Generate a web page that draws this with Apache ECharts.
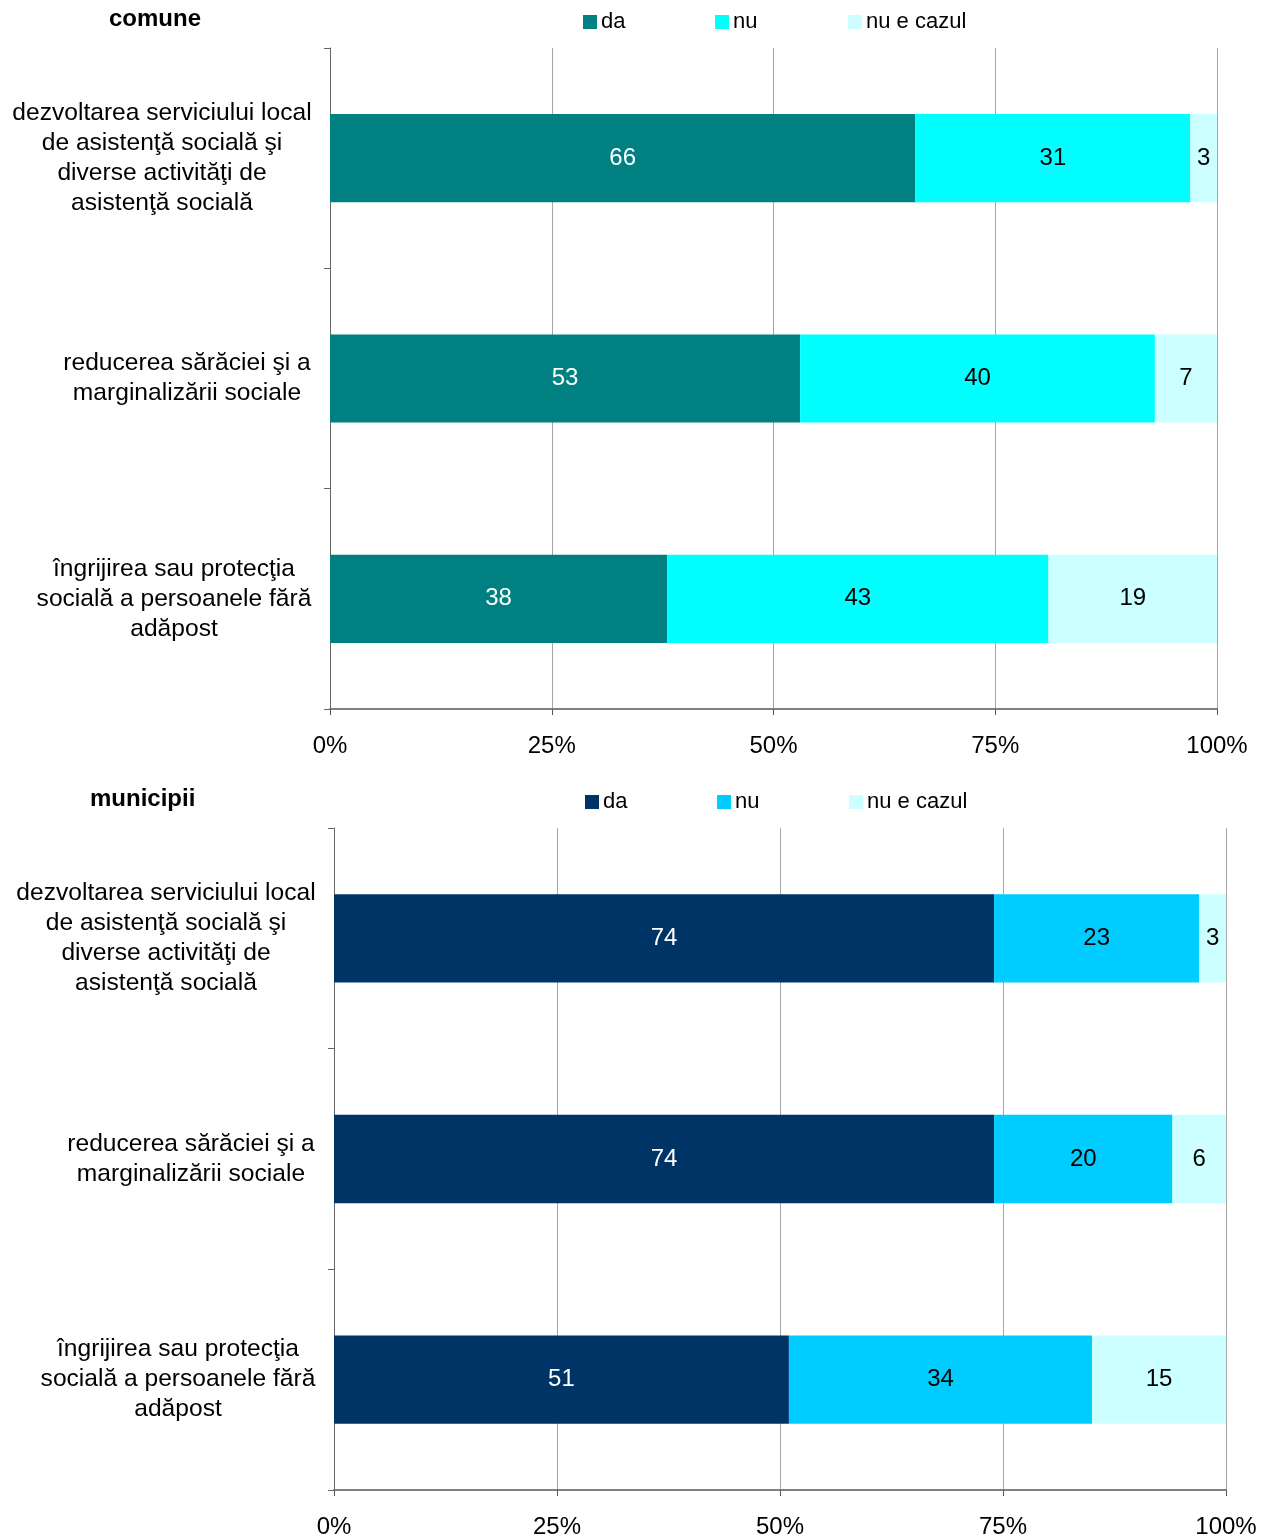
<!DOCTYPE html>
<html>
<head>
<meta charset="utf-8">
<script src="https://cdn.jsdelivr.net/npm/echarts@6/dist/echarts.min.js"></script>
<style>
  body { margin: 0; background: #fff; }
  #c1 { position: absolute; left: 0; top: 0; width: 1266px; height: 780px; }
  #c2 { position: absolute; left: 0; top: 780px; width: 1266px; height: 757px; }
</style>
</head>
<body>
<div id="c1"></div>
<div id="c2"></div>
<script>
var categories = [
  'dezvoltarea serviciului local\nde asistenţă socială şi\ndiverse activităţi de\nasistenţă socială',
  'reducerea sărăciei şi a\nmarginalizării sociale',
  'îngrijirea sau protecţia\nsocială a persoanele fără\nadăpost'
];
// shift of each multi-line label so the block sits like the original
var labelShift = [50, 0, 26];
var seriesNames = ['da', 'nu', 'nu e cazul'];
var ticks = [0, 25, 50, 75, 100];

var comuneDa = [66, 53, 38];
var comuneNu = [31, 40, 43];
var comuneNuECazul = [3, 7, 19];

var municipiiDa = [74, 74, 51];
var municipiiNu = [23, 20, 34];
var municipiiNuECazul = [3, 6, 15];

var FONT = '"Liberation Sans", Arial, sans-serif';

function buildChart(el, title, titleLeft, colors, values, grid, legendLefts) {
  var chart = echarts.init(document.getElementById(el));
  var catData = categories.map(function (c, i) {
    return {
      value: c,
      textStyle: {
        align: 'center', lineHeight: 30, fontFamily: FONT, fontSize: 24.6, color: '#000',
        padding: [4, labelShift[i], 0, 0]
      }
    };
  });
  var legends = seriesNames.map(function (n, i) {
    return {
      data: [n], left: legendLefts[i], top: 11, padding: 0,
      itemWidth: 14, itemHeight: 14, itemGap: 0,
      icon: 'rect', selectedMode: false,
      textStyle: { fontFamily: FONT, fontSize: 22, color: '#000', padding: [0, 0, 0, -1] }
    };
  });
  var series = seriesNames.map(function (n, i) {
    return {
      name: n, type: 'bar', stack: 'total',
      barCategoryGap: '60%',
      itemStyle: { color: colors[i] },
      label: {
        show: true, position: 'inside',
        fontFamily: FONT, fontSize: 24,
        color: i === 0 ? '#fff' : '#000'
      },
      data: values[i]
    };
  });
  grid.outerBoundsMode = 'none';
  grid.containLabel = false;
  chart.setOption({
    animation: false,
    title: {
      text: title, left: titleLeft, top: 7, padding: 0,
      textStyle: { fontFamily: FONT, fontSize: 24, fontWeight: 'bold', color: '#000' }
    },
    legend: legends,
    grid: grid,
    xAxis: {
      type: 'value', min: ticks[0], max: ticks[ticks.length - 1], interval: 25,
      axisLine: { show: true, lineStyle: { color: '#808080', width: 2 } },
      axisTick: { show: true, length: 6, lineStyle: { color: '#555' } },
      splitLine: { show: true, lineStyle: { color: '#a6a6a6', width: 1 } },
      axisLabel: {
        formatter: '{value}%', margin: 25,
        fontFamily: FONT, fontSize: 24, color: '#000'
      }
    },
    yAxis: {
      type: 'category', inverse: true, data: catData,
      axisLine: { show: true, lineStyle: { color: '#666', width: 1 } },
      axisTick: { show: true, length: 6, lineStyle: { color: '#666' } },
      axisLabel: {
        margin: 143, align: 'center', lineHeight: 30,
        fontFamily: FONT, fontSize: 24.6, color: '#000'
      }
    },
    series: series
  });
}

buildChart('c1', 'comune', 109,
  ['#008080', '#00ffff', '#ccffff'],
  [comuneDa, comuneNu, comuneNuECazul],
  { left: 330, right: 49, top: 48, bottom: 71 },
  [583, 715, 848]);

buildChart('c2', 'municipii', 90,
  ['#003366', '#00ccff', '#ccffff'],
  [municipiiDa, municipiiNu, municipiiNuECazul],
  { left: 334, right: 40, top: 48, bottom: 47 },
  [585, 717, 849]);
</script>
</body>
</html>
